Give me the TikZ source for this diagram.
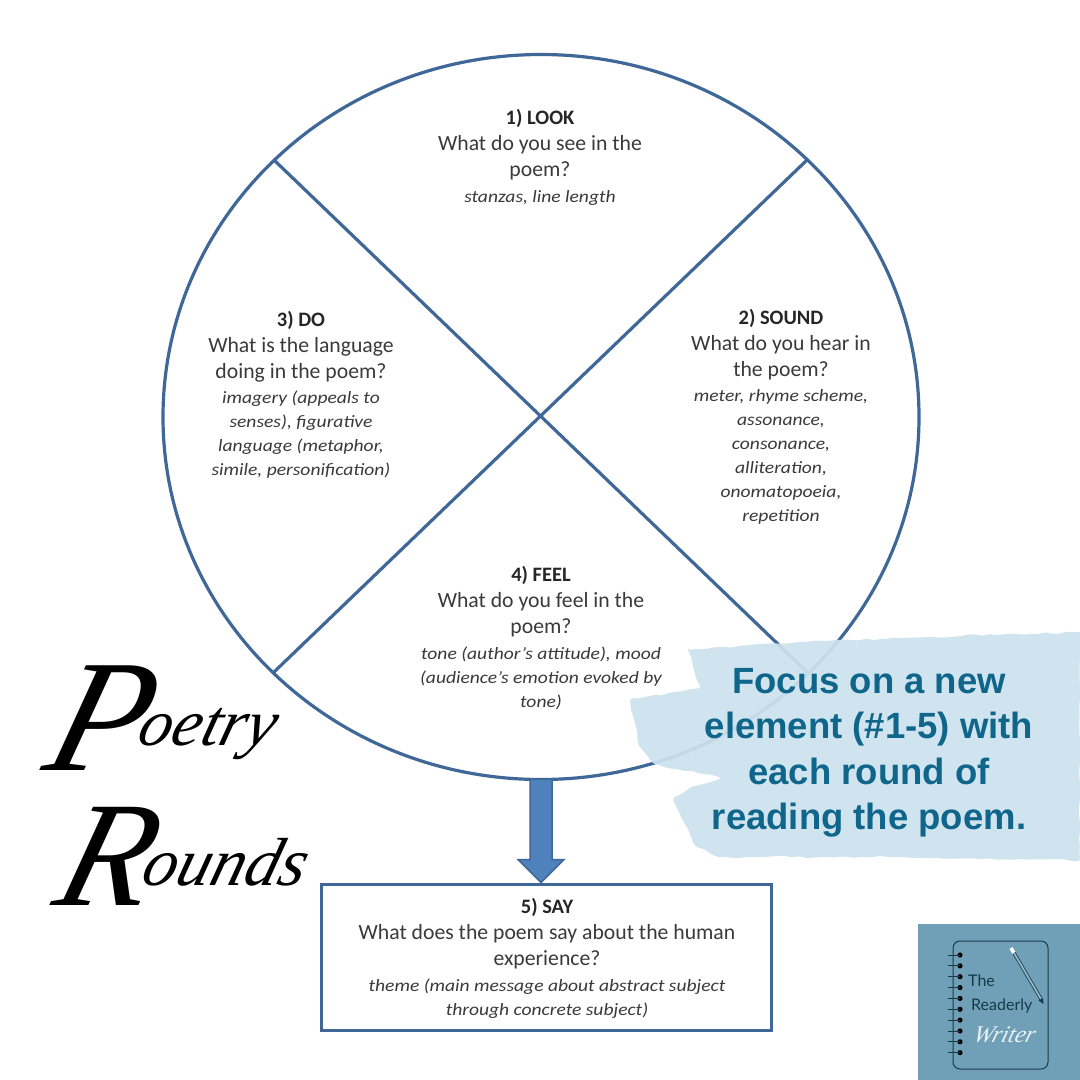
\documentclass[tikz,border=0pt]{standalone}
\usepackage{fontspec}
\setmainfont{Carlito}
\newfontfamily\exfont[FakeStretch=1.13]{Carlito}
\newfontfamily\focusfont{Liberation Sans}
\newfontfamily\logofont{Lato}
\newfontfamily\hwfont[FakeSlant=0.28]{Liberation Serif}
\usetikzlibrary{shapes.geometric,calc,decorations.pathmorphing}
\definecolor{wheelblue}{HTML}{3F6797}
\definecolor{arrowfill}{HTML}{4F81BD}
\definecolor{brush}{HTML}{CDE2EE}
\definecolor{focusblue}{HTML}{10668A}
\definecolor{logobg}{HTML}{6FA0B7}
\definecolor{logoink}{HTML}{173A48}
\definecolor{bodyink}{HTML}{3A3A3A}
\newcommand{\tl}[1]{{\bfseries\fontsize{20.5}{26}\selectfont\color{black!85}#1}}
\newcommand{\qn}[1]{{\fontsize{21.7}{26}\selectfont #1}}
\newcommand{\ex}[1]{{\exfont\itshape\fontsize{17.3}{24}\selectfont #1}}
\tikzset{
  x=1pt,y=-1pt,
  wheelline/.style={draw=wheelblue,line width=3.2pt},
  block/.style={align=center,text=bodyink,inner sep=0pt,anchor=north,font=\fontsize{20}{26}\selectfont},
  titletext/.style={inner sep=0pt,anchor=base west,text=black},
  focus/.style={inner sep=0pt,anchor=center,align=center,text=focusblue,font=\focusfont\bfseries\fontsize{36.5}{45.5}\selectfont},
  logotext/.style={inner sep=0pt,anchor=base west,text=logoink,font=\logofont\fontsize{16}{20}\selectfont}
}
\begin{document}
\begin{tikzpicture}
\useasboundingbox (0,0) rectangle (1080,1080);
\fill[white] (0,0) rectangle (1080,1080);

% wheel
\node[ellipse,wheelline,minimum width=756pt,minimum height=725pt,inner sep=0pt] (wheel) at (541,417) {};
\coordinate (nw) at (274,160);
\coordinate (ne) at (807,160);
\coordinate (sw) at (274,672);
\coordinate (se) at (807,672);
\draw[wheelline] (nw) -- (se);
\draw[wheelline] (ne) -- (sw);

% say box
\node[draw=wheelblue,line width=3pt,fill=white,minimum width=450pt,minimum height=146pt,inner sep=0pt] (say) at (546,957) {};

% arrow
\draw[draw=wheelblue,fill=arrowfill,line width=1.5pt,line join=miter]
  ($(wheel.south)+(-11,-2)$) -- ($(say.north)+(-16,-23)$) -- ($(say.north)+(-28,-23)$)
  -- ($(say.north)+(-5,0)$) -- ($(say.north)+(18,-23)$) -- ($(say.north)+(6,-23)$)
  -- ($(wheel.south)+(11,-2)$) -- cycle;

% sector text
\node[block] (look) at (540,109) {\tl{1) LOOK}\\\qn{What do you see in the}\\\qn{poem?}\\\ex{stanzas, line length}};
\node[block] (sound) at (781,309) {\tl{2) SOUND}\\\qn{What do you hear in}\\\qn{the poem?}\\[-1pt]\ex{meter, rhyme scheme,}\\[-2pt]\ex{assonance,}\\[-2pt]\ex{consonance,}\\[-2pt]\ex{alliteration,}\\[-2pt]\ex{onomatopoeia,}\\[-2pt]\ex{repetition}};
\node[block] (do) at (301,311) {\tl{3) DO}\\\qn{What is the language}\\\qn{doing in the poem?}\\[-1pt]\ex{imagery (appeals to}\\[-2pt]\ex{senses), figurative}\\[-2pt]\ex{language (metaphor,}\\[-2pt]\ex{simile, personification)}};
\node[block] (feel) at (541,566) {\tl{4) FEEL}\\\qn{What do you feel in the}\\\qn{poem?}\\\ex{tone (author’s attitude), mood}\\[-2pt]\ex{(audience’s emotion evoked by}\\[-2pt]\ex{tone)}};
\node[block] (saytext) at (547,898) {\tl{5) SAY}\\\qn{What does the poem say about the human}\\\qn{experience?}\\\ex{theme (main message about abstract subject}\\[-2pt]\ex{through concrete subject)}};

% brush stroke
\fill[brush,opacity=.93,rounded corners=3pt,decorate,decoration={random steps,segment length=7pt,amplitude=1.3pt}]
  (688,650) -- (800,642) -- (930,637) -- (1080,632) -- (1080,860) -- (900,857) -- (720,857)
  -- (697,847) -- (673,800) -- (690,788) -- (722,778) -- (655,764) -- (640,747) -- (630,700)
  -- (700,688) -- cycle;
\node[focus] (focustext) at (869,753) {Focus on a new\\element (\#1-5) with\\each round of\\reading the poem.};

% title
\node[titletext] (poetry) at (40,770) {\hwfont\itshape\fontsize{160}{160}\selectfont P\kern-2pt\raisebox{25pt}{\fontsize{66}{66}\selectfont oetry}};
\node[titletext] (rounds) at (50,905) {\hwfont\itshape\fontsize{150}{150}\selectfont R\kern-2pt\raisebox{20pt}{\fontsize{68}{68}\selectfont ounds}};

% logo
\fill[logobg] (918,924) rectangle (1080,1080);
\draw[logoink,line width=1pt,rounded corners=7pt] (953,941) rectangle (1048,1069);
\foreach \i in {0,...,9}{
  \fill[black] (960,{955+\i*10.85}) circle (2.6pt);
  \draw[logoink,line width=.8pt] (948,{955+\i*10.85}) -- (960,{955+\i*10.85});
}
\draw[white,line width=3.6pt] (1011,948) -- (1014,953);
\draw[logoink,line width=3.4pt] (1014,953) -- (1041,999);
\draw[logobg!75!white,line width=1.8pt] (1014,953) -- (1041,999);
\fill[logoink] (1038.5,1000.5) -- (1043,998) -- (1043.5,1004) -- cycle;
\node[logotext] (lthe) at (968,986) {The};
\node[logotext] (lread) at (971,1010) {Readerly};
\node[logotext,text=white!85!logobg,font=\hwfont\itshape\fontsize{24}{24}\selectfont] (lwriter) at (972,1042) {Writer};
\end{tikzpicture}
\end{document}
